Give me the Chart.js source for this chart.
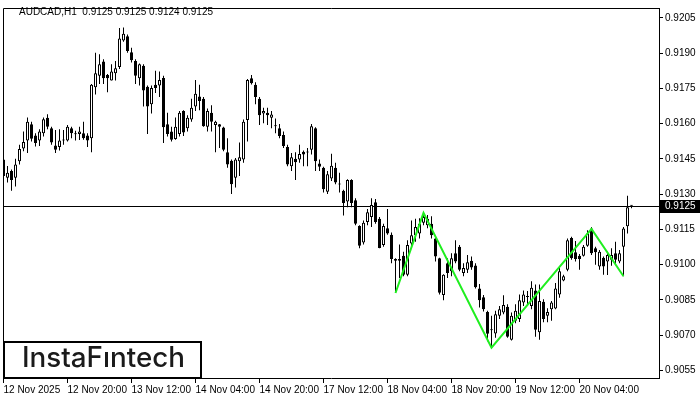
<!DOCTYPE html>
<html>
<head>
<meta charset="utf-8">
<script src="https://cdn.jsdelivr.net/npm/chart.js@4.4.1/dist/chart.umd.min.js"></script>
<style>
html,body{margin:0;padding:0;background:#fff;}
#wrap{width:700px;height:400px;}
</style>
</head>
<body>
<div id="wrap"><canvas id="c" width="700" height="400"></canvas></div>
<script>
const symbolTitle = "AUDCAD,H1  0.9125 0.9125 0.9124 0.9125";
const lastPrice = 0.9125;
const openP = [0.91447,0.91370,0.91398,0.91370,0.91440,0.91494,0.91528,0.91597,0.91549,0.91528,
0.91559,0.91625,0.91580,0.91507,0.91500,0.91528,0.91528,0.91580,0.91555,0.91556,
0.91559,0.91549,0.91538,0.91755,0.91804,0.91864,0.91807,0.91783,0.91814,0.91841,
0.91954,0.91972,0.91904,0.91867,0.91793,0.91846,0.91757,0.91682,0.91765,0.91762,
0.91794,0.91597,0.91566,0.91534,0.91556,0.91654,0.91580,0.91618,0.91673,0.91715,
0.91706,0.91587,0.91646,0.91594,0.91597,0.91583,0.91478,0.91442,0.91370,0.91440,
0.91447,0.91615,0.91793,0.91765,0.91706,0.91643,0.91646,0.91625,0.91589,0.91580,
0.91552,0.91500,0.91419,0.91450,0.91447,0.91480,0.91477,0.91489,0.91580,0.91430,
0.91412,0.91310,0.91366,0.91412,0.91342,0.91314,0.91268,0.91360,0.91274,0.91164,
0.91094,0.91181,0.91202,0.91265,0.91195,0.91083,0.91155,0.91127,0.91016,0.91016,
0.91038,0.90957,0.91090,0.91125,0.91132,0.91178,0.91167,0.91174,0.91111,0.91027,
0.90870,0.91006,0.90971,0.91048,0.91076,0.90964,0.90978,0.91016,0.90996,0.90898,
0.90861,0.90798,0.90724,0.90707,0.90782,0.90796,0.90820,0.90680,0.90761,0.90768,
0.90838,0.90862,0.90824,0.90890,0.90712,0.90842,0.90782,0.90810,0.90813,0.90873,
0.90932,0.90978,0.91113,0.91052,0.91038,0.91038,0.91080,0.91153,0.91069,0.90992,
0.91029,0.91013,0.91020,0.91048,0.91013,0.91076,0.91163,0.91250];
const highP = [0.91461,0.91420,0.91405,0.91450,0.91510,0.91566,0.91626,0.91608,0.91559,0.91576,
0.91626,0.91640,0.91587,0.91573,0.91576,0.91573,0.91594,0.91587,0.91570,0.91587,
0.91608,0.91559,0.91769,0.91902,0.91895,0.91874,0.91811,0.91853,0.91867,0.92007,
0.92009,0.91979,0.91923,0.91874,0.91856,0.91853,0.91762,0.91762,0.91825,0.91822,
0.91804,0.91646,0.91587,0.91626,0.91654,0.91657,0.91636,0.91706,0.91786,0.91765,
0.91713,0.91664,0.91678,0.91612,0.91598,0.91587,0.91538,0.91447,0.91454,0.91520,
0.91618,0.91790,0.91807,0.91776,0.91713,0.91668,0.91668,0.91654,0.91622,0.91598,
0.91566,0.91510,0.91475,0.91478,0.91510,0.91486,0.91496,0.91598,0.91584,0.91447,
0.91416,0.91398,0.91472,0.91433,0.91391,0.91318,0.91363,0.91363,0.91282,0.91167,
0.91188,0.91237,0.91282,0.91279,0.91202,0.91174,0.91237,0.91136,0.91027,0.91085,
0.91055,0.91104,0.91188,0.91195,0.91197,0.91220,0.91211,0.91206,0.91122,0.91029,
0.90959,0.91027,0.91048,0.91104,0.91083,0.91006,0.91041,0.91034,0.91006,0.90917,
0.90870,0.90803,0.90782,0.90803,0.90824,0.90869,0.90831,0.90796,0.90831,0.90873,
0.90890,0.90887,0.90929,0.90915,0.90915,0.90852,0.90814,0.90845,0.90922,0.90992,
0.90957,0.91111,0.91118,0.91100,0.91045,0.91083,0.91146,0.91160,0.91076,0.91062,
0.91034,0.91055,0.91069,0.91097,0.91062,0.91160,0.91293,0.91252];
const lowP = [0.91366,0.91349,0.91314,0.91332,0.91426,0.91482,0.91475,0.91524,0.91503,0.91505,
0.91545,0.91576,0.91510,0.91475,0.91486,0.91510,0.91524,0.91538,0.91528,0.91530,
0.91531,0.91500,0.91478,0.91724,0.91769,0.91769,0.91734,0.91783,0.91783,0.91832,
0.91948,0.91902,0.91860,0.91769,0.91762,0.91673,0.91556,0.91643,0.91730,0.91713,
0.91517,0.91545,0.91524,0.91531,0.91545,0.91547,0.91566,0.91608,0.91654,0.91657,
0.91587,0.91566,0.91566,0.91478,0.91496,0.91482,0.91412,0.91300,0.91328,0.91377,
0.91433,0.91524,0.91766,0.91682,0.91594,0.91601,0.91594,0.91580,0.91559,0.91538,
0.91496,0.91419,0.91398,0.91360,0.91433,0.91419,0.91419,0.91468,0.91398,0.91398,
0.91307,0.91300,0.91356,0.91342,0.91307,0.91209,0.91244,0.91244,0.91167,0.91069,
0.91085,0.91167,0.91160,0.91174,0.91069,0.91076,0.91127,0.91006,0.90885,0.90943,
0.90950,0.90950,0.91076,0.91097,0.91111,0.91167,0.91155,0.91111,0.91013,0.90873,
0.90848,0.90943,0.90950,0.91006,0.90971,0.90950,0.90964,0.90978,0.90898,0.90817,
0.90800,0.90674,0.90649,0.90688,0.90768,0.90789,0.90688,0.90677,0.90750,0.90755,
0.90824,0.90831,0.90810,0.90693,0.90680,0.90754,0.90754,0.90761,0.90810,0.90859,
0.90929,0.90971,0.91020,0.91013,0.90978,0.91034,0.91076,0.91041,0.90999,0.90978,
0.90957,0.90956,0.90995,0.91000,0.91006,0.90950,0.91132,0.91240];
const closeP = [0.91377,0.91391,0.91360,0.91426,0.91492,0.91522,0.91608,0.91535,0.91517,0.91566,
0.91619,0.91587,0.91520,0.91489,0.91528,0.91530,0.91587,0.91559,0.91558,0.91566,
0.91538,0.91528,0.91765,0.91814,0.91853,0.91793,0.91793,0.91822,0.91836,0.91962,
0.91983,0.91909,0.91870,0.91804,0.91853,0.91741,0.91673,0.91752,0.91752,0.91786,
0.91584,0.91556,0.91531,0.91587,0.91646,0.91562,0.91625,0.91668,0.91727,0.91696,
0.91589,0.91654,0.91608,0.91608,0.91587,0.91489,0.91426,0.91342,0.91447,0.91457,
0.91608,0.91786,0.91772,0.91713,0.91636,0.91654,0.91636,0.91639,0.91591,0.91547,
0.91505,0.91426,0.91457,0.91436,0.91471,0.91468,0.91478,0.91589,0.91440,0.91416,
0.91321,0.91384,0.91421,0.91349,0.91341,0.91262,0.91360,0.91262,0.91174,0.91080,
0.91178,0.91223,0.91253,0.91181,0.91071,0.91164,0.91132,0.91024,0.91024,0.91024,
0.90957,0.91083,0.91125,0.91160,0.91174,0.91202,0.91195,0.91125,0.91034,0.90880,
0.90957,0.90964,0.91027,0.91013,0.90978,0.90985,0.91010,0.90988,0.90903,0.90848,
0.90810,0.90705,0.90720,0.90789,0.90810,0.90828,0.90693,0.90782,0.90803,0.90848,
0.90873,0.90864,0.90901,0.90722,0.90845,0.90768,0.90798,0.90838,0.90898,0.90971,
0.90950,0.91104,0.91027,0.91024,0.91024,0.91076,0.91132,0.91048,0.91052,0.91055,
0.90992,0.91041,0.91041,0.91020,0.91048,0.91153,0.91244,0.91250];
const patternIdx = [98, 105, 122, 147, 155];
const patternVal = [0.90879, 0.91220, 0.90646, 0.91152, 0.90950];
const xTickIdx = [0, 16, 32, 48, 64, 80, 96, 112, 128, 144];
const xTickText = ["12 Nov 2025","12 Nov 20:00","13 Nov 12:00","14 Nov 04:00","14 Nov 20:00","17 Nov 12:00","18 Nov 04:00","18 Nov 20:00","19 Nov 12:00","20 Nov 04:00"];
const yTickVals = [0.9055,0.9070,0.9085,0.9100,0.9115,0.9130,0.9145,0.9160,0.9175,0.9190,0.9205];

const FONT = "'Liberation Sans', Arial, sans-serif";

const wickData = openP.map((o, i) => ({x: i, y: [lowP[i], highP[i]]}));
const bodyData = openP.map((o, i) => ({x: i, y: [o, closeP[i]]}));
const bodyColors = openP.map((o, i) => closeP[i] < o ? '#000000' : '#ffffff');
const patternData = patternIdx.map((v, k) => ({x: v, y: patternVal[k]}));

const overlay = {
  id: 'overlay',
  beforeDatasetsDraw(chart) {
    const {ctx, chartArea: a, scales} = chart;
    const y = Math.round(scales.y.getPixelForValue(lastPrice)) + 0.5;
    ctx.save();
    ctx.strokeStyle = '#000';
    ctx.lineWidth = 1;
    ctx.beginPath();
    ctx.moveTo(a.left, y);
    ctx.lineTo(a.right, y);
    ctx.stroke();
    ctx.restore();
  },
  afterDraw(chart) {
    const {ctx, chartArea: a, scales} = chart;
    ctx.save();
    ctx.strokeStyle = '#000';
    ctx.lineWidth = 1;
    ctx.beginPath();
    ctx.moveTo(a.left + 0.5, a.bottom);
    ctx.lineTo(a.left + 0.5, a.top + 0.5);
    ctx.lineTo(a.right, a.top + 0.5);
    ctx.stroke();
    ctx.fillStyle = '#000';
    ctx.font = '10px ' + FONT;
    ctx.textBaseline = 'middle';
    ctx.textAlign = 'left';
    ctx.fillText(symbolTitle, 19, 12);
    const py = Math.round(scales.y.getPixelForValue(lastPrice));
    ctx.fillStyle = '#000';
    ctx.fillRect(a.right + 1, py - 6, 40, 13);
    ctx.fillStyle = '#fff';
    ctx.font = '10px ' + FONT;
    ctx.fillText(lastPrice.toFixed(4), 665, py + 0.5);
    ctx.fillStyle = '#fff';
    ctx.fillRect(3, 341, 198, 38);
    ctx.strokeStyle = '#000';
    ctx.lineWidth = 2;
    ctx.strokeRect(4, 342, 197, 36);
    ctx.fillStyle = '#1a1a1a';
    const txt = 'InstaF\u0131ntech';
    let fs = 22;
    ctx.font = '500 ' + fs + "px 'Inter', 'Lato', sans-serif";
    const w = ctx.measureText(txt).width;
    fs = fs * 163 / w;
    ctx.font = '500 ' + fs.toFixed(2) + "px 'Inter', 'Lato', sans-serif";
    ctx.textBaseline = 'alphabetic';
    ctx.fillText(txt, 22, 367);
    ctx.restore();
  }
};

new Chart(document.getElementById('c'), {
  type: 'bar',
  data: {
    datasets: [
      {
        type: 'line', data: patternData, borderColor: '#1fee1f', borderWidth: 2,
        pointRadius: 0, fill: false, tension: 0, order: 0
      },
      {
        data: bodyData, backgroundColor: bodyColors, borderColor: '#000', borderWidth: 1,
        borderSkipped: false, grouped: false, categoryPercentage: 1, barPercentage: 0.75,
        minBarLength: 1, inflateAmount: 0, order: 1
      },
      {
        data: wickData, backgroundColor: '#000', borderWidth: 0,
        grouped: false, categoryPercentage: 1, barPercentage: 0.25,
        inflateAmount: 0, order: 2
      }
    ]
  },
  options: {
    responsive: false,
    animation: false,
    devicePixelRatio: 1,
    layout: {padding: {left: 3, top: 3, right: 0, bottom: 0}},
    plugins: {legend: {display: false}, tooltip: {enabled: false}},
    scales: {
      x: {
        type: 'linear', min: -0.125, max: 163.875, offset: false,
        afterBuildTicks(s) { s.ticks = xTickIdx.map(v => ({value: v})); },
        afterFit(s) { s.height = 22; },
        ticks: {
          autoSkip: false, maxRotation: 0, align: 'start', padding: 1,
          color: '#000', font: {family: FONT, size: 10},
          callback(v) { const k = xTickIdx.indexOf(v); return k >= 0 ? xTickText[k] : ''; }
        },
        grid: {offset: false, drawOnChartArea: false, drawTicks: true, tickLength: 5, color: '#000'},
        border: {display: true, color: '#000', width: 1}
      },
      y: {
        position: 'right', min: 0.905171, max: 0.920921,
        afterBuildTicks(s) { s.ticks = yTickVals.map(v => ({value: v})); },
        afterFit(s) { s.width = 41; },
        ticks: {
          padding: 2, color: '#000', font: {family: FONT, size: 10},
          callback(v) { return Number(v).toFixed(4); }
        },
        grid: {drawOnChartArea: false, drawTicks: true, tickLength: 4, color: '#000'},
        border: {display: true, color: '#000', width: 1}
      }
    }
  },
  plugins: [overlay]
});
</script>
</body>
</html>
